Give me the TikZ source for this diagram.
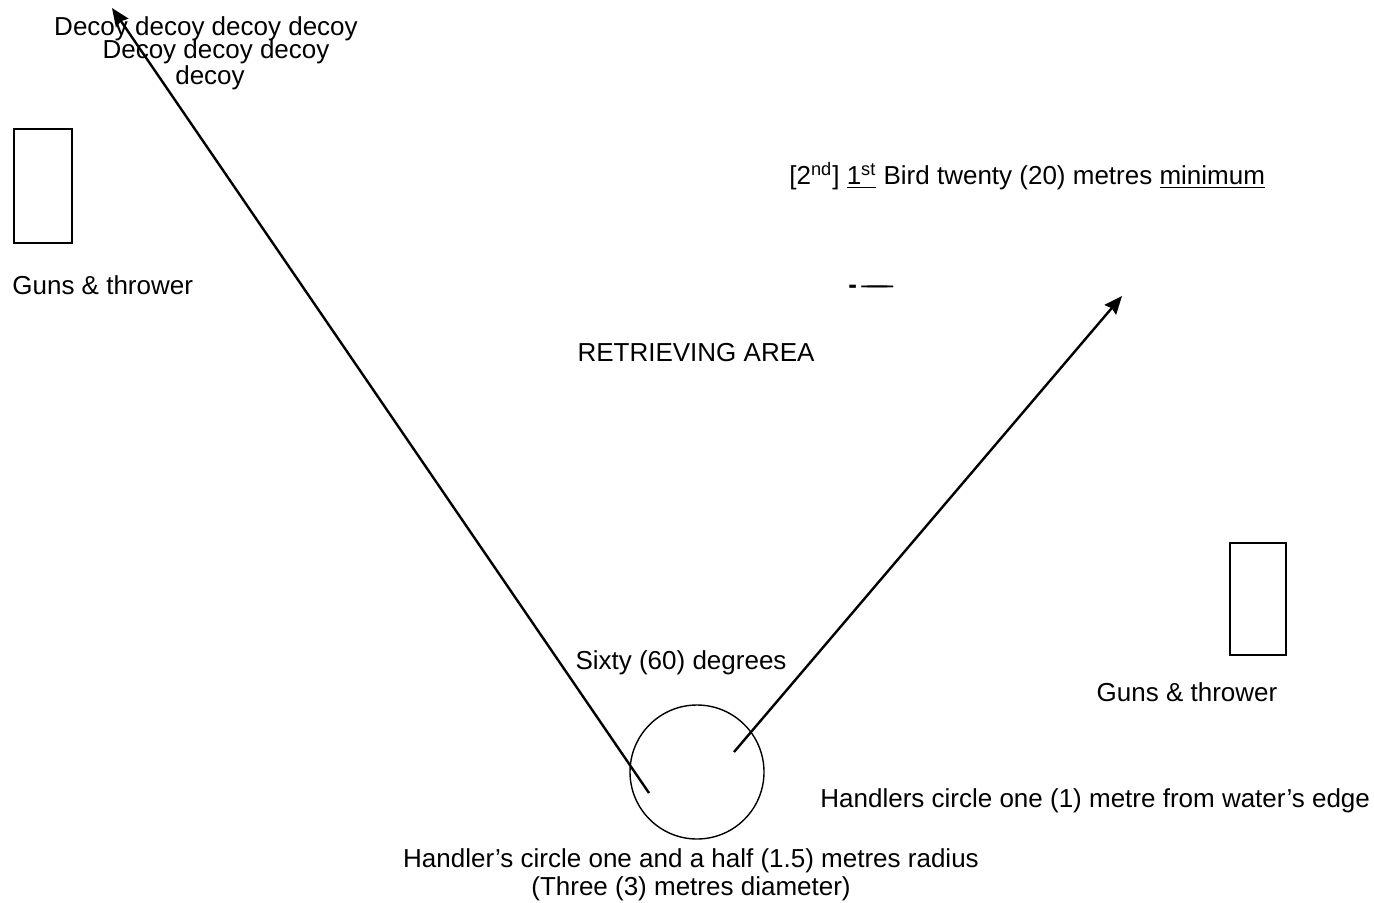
\documentclass[tikz,border=0pt]{standalone}
\usepackage{fontspec}
\setmainfont{Liberation Sans}
\usetikzlibrary{arrows.meta}
\begin{document}
\begin{tikzpicture}[x=0.5pt,y=-0.5pt,
  lbl/.style={font=\fontsize{13}{15}\selectfont, inner sep=0pt, align=center},
  arr/.style={line width=1.2pt, -{Stealth[length=9pt,width=7.5pt,inset=1pt]}},
  gunbox/.style={draw, line width=1pt},
  hcircle/.style={draw, line width=0.7pt}]
\useasboundingbox (0,0) rectangle (1374,903);
% handler's circle
\node[hcircle, circle, minimum size=67pt, inner sep=0pt] (circ) at (697,772) {};
% arrow start/end points
\coordinate (lstart) at (649,793);
\coordinate (ltip) at (112,8);
\coordinate (rstart) at (734,752);
\coordinate (rtip) at (1122,296);
\draw[arr] (lstart) -- (ltip);
\draw[arr] (rstart) -- (rtip);
% guns boxes
\node[gunbox, minimum width=29pt, minimum height=57pt, inner sep=0pt] (gunL) at (43,186) {};
\node[gunbox, minimum width=28pt, minimum height=56pt, inner sep=0pt] (gunR) at (1258,599) {};
% texts
\node[lbl] (d1) at (206,29) {Decoy decoy decoy decoy};
\node[lbl] (d2) at (216,52) {Decoy decoy decoy};
\node[lbl] (d3) at (210,78) {decoy};
\node[lbl, anchor=west] (gunLt) at (12,285) {Guns \& thrower};
\node[lbl, anchor=west] (bird) at (789,176) {[2\textsuperscript{nd}] \underline{1\textsuperscript{st}} Bird twenty (20) metres \underline{minimum}};
\node[lbl, anchor=west] (dash) at (848,289) {\textbf{-}\,—\kern-10pt—};
\node[lbl] (area) at (696,353) {RETRIEVING AREA};
\node[lbl] (sixty) at (681,663) {Sixty (60) degrees};
\node[lbl] (gunRt) at (1187,692) {Guns \& thrower};
\node[lbl, anchor=west] (edge) at (820,801) {Handlers circle one (1) metre from water’s edge};
\node[lbl] (radius) at (691,861) {Handler’s circle one and a half (1.5) metres radius};
\node[lbl] (diam) at (691,889) {(Three (3) metres diameter)};
\end{tikzpicture}
\end{document}
